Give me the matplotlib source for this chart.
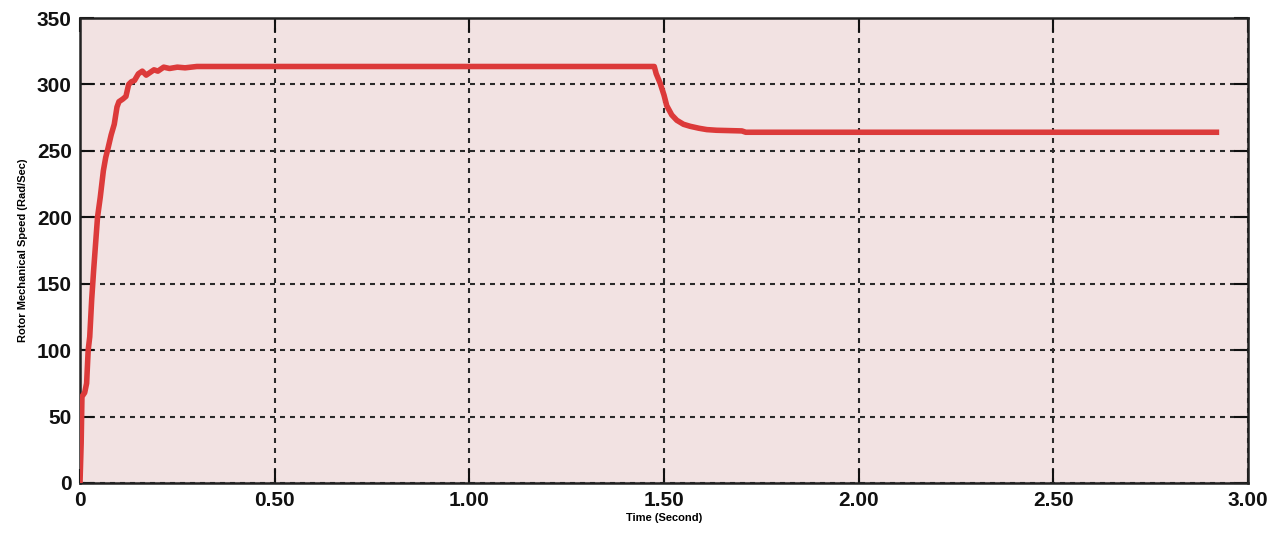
import matplotlib
matplotlib.use("Agg")
import matplotlib.pyplot as plt

# Rotor mechanical speed of the motor: run-up, steady state, then load step
time_s = [0.000, 0.003, 0.005, 0.012, 0.017, 0.021, 0.025, 0.030, 0.035, 0.040,
          0.045, 0.052, 0.060, 0.066, 0.072, 0.080, 0.088, 0.095, 0.100, 0.110,
          0.118, 0.125, 0.132, 0.140, 0.150, 0.160, 0.170, 0.180, 0.190, 0.200,
          0.215, 0.230, 0.250, 0.270, 0.300, 1.475, 1.480, 1.490, 1.500, 1.507,
          1.520, 1.533, 1.550, 1.567, 1.590, 1.610, 1.635, 1.700, 1.710, 2.926]
speed_rad_s = [0, 30, 65, 68, 75, 100, 110, 138, 160, 180,
               200, 215, 235, 245, 252, 262, 270, 283, 287, 289,
               291, 300, 302, 303, 308, 310, 307, 309, 311, 310,
               313, 312, 313, 312.5, 313.5, 313.5, 308, 301, 292, 284,
               277, 273, 270, 268.5, 267, 266, 265.5, 265, 264, 264]

x_ticks = [0, 0.5, 1.0, 1.5, 2.0, 2.5, 3.0]
x_tick_labels = ["0", "0.50", "1.00", "1.50", "2.00", "2.50", "3.00"]
y_ticks = [0, 50, 100, 150, 200, 250, 300, 350]

plt.rcParams["font.family"] = ["Liberation Sans", "DejaVu Sans"]

fig = plt.figure(figsize=(12.81, 5.33), dpi=100)
ax = fig.add_axes([80 / 1281, 50 / 533, 1168 / 1281, 465 / 533])
ax.set_facecolor("#f2e2e2")

ax.plot(time_s, speed_rad_s, color="#dc3a3a", linewidth=4.0,
        solid_joinstyle="round", solid_capstyle="butt", zorder=3)

ax.set_xlim(0, 3.0)
ax.set_ylim(0, 350)
ax.set_xticks(x_ticks)
ax.set_xticklabels(x_tick_labels)
ax.set_yticks(y_ticks)

ax.grid(True, color="#2a2a2a", linestyle=(0, (2.4, 2.4)), linewidth=1.5)
ax.tick_params(direction="in", length=10, width=1.5, top=True, right=True,
               labelsize=15, pad=6, colors="#111111")
for lbl in ax.get_xticklabels() + ax.get_yticklabels():
    lbl.set_fontweight("bold")
for sp in ax.spines.values():
    sp.set_linewidth(1.8)
    sp.set_color("#222222")

ax.set_xlabel("Time (Second)", fontsize=8, fontweight="bold", labelpad=2)
ax.set_ylabel("Rotor Mechanical Speed (Rad/Sec)", fontsize=8,
              fontweight="bold", labelpad=6)

fig.savefig("out.png", dpi=100, facecolor="white")
